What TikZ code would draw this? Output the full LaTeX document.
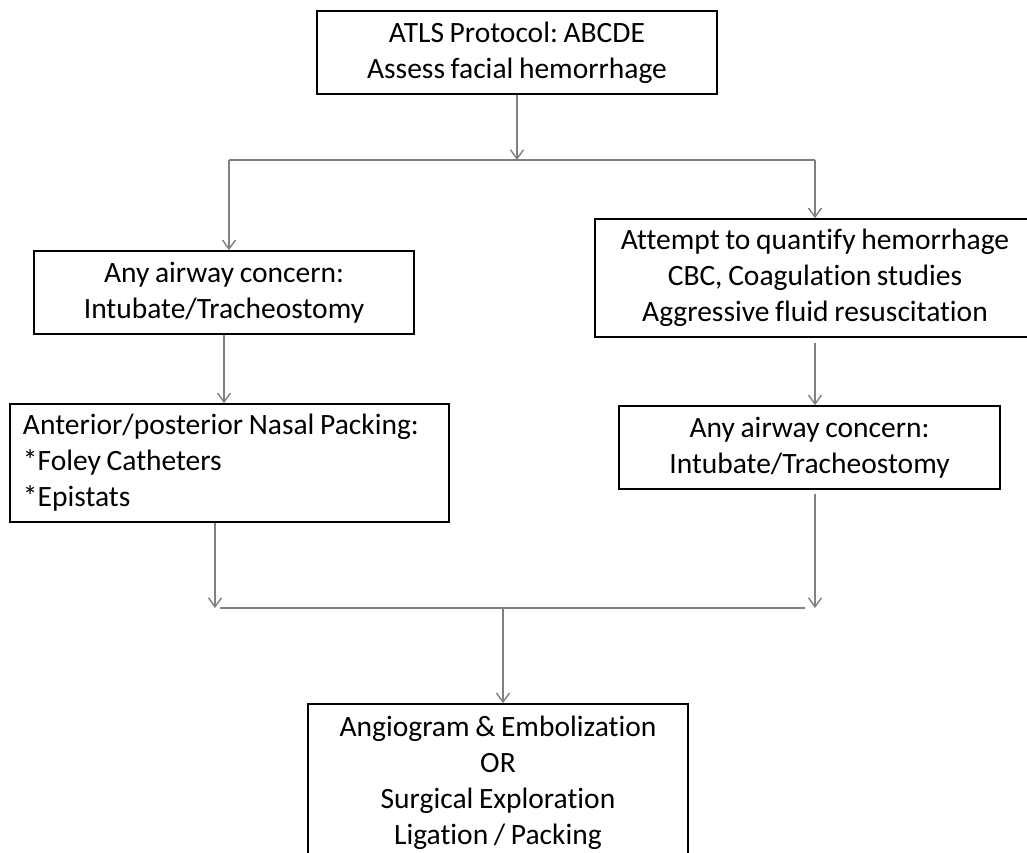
\documentclass[tikz,border=0pt]{standalone}
\usepackage{fontspec}
\setmainfont{Carlito}[Ligatures=NoCommon, WordSpace=0.85]
\frenchspacing
\usetikzlibrary{arrows.meta}
\definecolor{conngray}{HTML}{808080}
\tikzset{
  box/.style={draw=black, line width=1.6pt, inner sep=0pt, align=center,
    font=\fontsize{29.5}{36}\selectfont},
  conn/.style={draw=conngray, line width=1.4pt},
  arr/.style={conn, -{Straight Barb[length=9pt,width=13pt,line width=1.4pt]}}
}
\begin{document}
\begin{tikzpicture}[x=1pt,y=-1pt]
\useasboundingbox (0,0) rectangle (1027,852);
\clip (0,0) rectangle (1027,852);
% boxes
\node[box, minimum width=400pt, minimum height=83pt] (top) at (517,52.5)
  {ATLS Protocol: ABCDE\\Assess facial hemorrhage};
\node[box, minimum width=380pt, minimum height=83pt] (l1) at (224,292.5)
  {Any airway concern:\\Intubate/Tracheostomy};
\node[box, minimum width=439pt, minimum height=118pt, align=flush left,
  text width=413pt, inner xsep=13pt] (l2) at (229.5,463)
  {Anterior/posterior Nasal Packing:\\{}*Foley Catheters\\{}*Epistats};
\node[box, minimum width=440pt, minimum height=118pt] (r1) at (815,278)
  {Attempt to quantify hemorrhage\\CBC, Coagulation studies\\Aggressive fluid resuscitation};
\node[box, minimum width=381pt, minimum height=83pt] (r2) at (809.5,447.5)
  {Any airway concern:\\Intubate/Tracheostomy};
\node[box, minimum width=380pt, minimum height=158pt] (bot) at (498,783)
  {Angiogram \& Embolization\\OR\\Surgical Exploration\\Ligation / Packing};
% junction coordinates
\coordinate (j1) at (517,160);
\coordinate (j1l) at (229,160);
\coordinate (j1r) at (815,160);
\coordinate (jl) at (215,608);
\coordinate (jr) at (815,608);
\coordinate (hl) at (220,608);
\coordinate (hr) at (805,608);
\coordinate (jm) at (503,608);
% connectors
\draw[arr] (top.south) -- (j1);
\draw[conn] (j1l) -- (j1r);
\draw[arr] (j1l) -- (j1l |- l1.north);
\draw[arr] (j1r) -- (j1r |- r1.north);
\draw[arr] (l1.south) -- (l1.south |- l2.north);
\draw[arr] ([yshift=-5pt]r1.south) -- (r1.south |- r2.north);
\draw[arr] (l2.south -| jl) -- (jl);
\draw[arr] ([yshift=-4pt]r2.south -| jr) -- (jr);
\draw[conn] (hl) -- (hr);
\draw[arr] (jm) -- (jm |- bot.north);
\end{tikzpicture}
\end{document}
